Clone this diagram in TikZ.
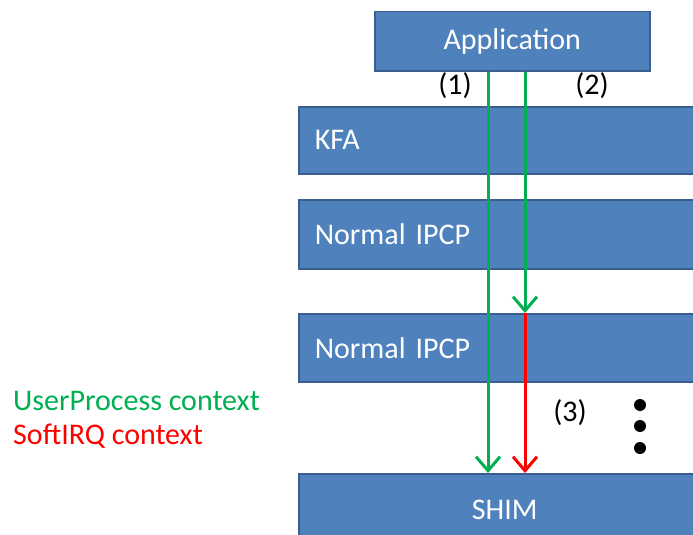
\documentclass[tikz,border=0pt]{standalone}
\usepackage{fontspec}
\setmainfont{Carlito}
\usetikzlibrary{positioning}
\usetikzlibrary {arrows.meta}
\definecolor{layerfill}{HTML}{4F81BD}
\definecolor{layerdraw}{HTML}{3A5F8E}
\definecolor{usergreen}{HTML}{00B050}
\definecolor{irqred}{HTML}{FF0000}
\tikzset{layerbox/.style={rectangle,draw=layerdraw,fill=layerfill,line width=1.5pt,
text=white,font=\fontsize{30}{35}\selectfont,anchor=north west,
minimum width=412pt,text width=380pt,inner xsep=16pt,align=left}}
\tikzset{pathlabel/.style={font=\fontsize{30}{35}\selectfont,inner sep=0pt}}
\tikzset{userflow/.style={draw=usergreen,line width=3pt,-{Straight Barb[length=14pt,width=24pt,line width=3pt]}}}
\tikzset{irqflow/.style={draw=irqred,line width=3pt,-{Straight Barb[length=14pt,width=24pt,line width=3pt]}}}

\begin{document}
\begin{tikzpicture}[x=1pt,y=-1pt]
        \useasboundingbox (0,0) rectangle (693,535);
        \clip (0,0) rectangle (693,535);

        \node[layerbox, minimum width=275pt, minimum height=59pt, text width=243pt, align=center] (app) at (374,11) {Application};
        \node[layerbox, minimum height=67pt] (kfa) at (298,106) {KFA};
        \node[layerbox, minimum height=69pt] (ipcpA) at (298,199) {Normal IPCP};
        \node[layerbox, minimum height=68pt] (ipcpB) at (298,313) {Normal IPCP};
        \node[layerbox, minimum height=72pt, align=center] (shim) at (298,473) {SHIM};

        \coordinate (flowA) at (488,0);
        \coordinate (flowB) at (525,0);

        \draw[userflow] (app.south -| flowA) -- (shim.north -| flowA);
        \draw[userflow] (app.south -| flowB) -- (ipcpB.north -| flowB);
        \draw[irqflow] (ipcpB.north -| flowB) -- (shim.north -| flowB);

        \node[pathlabel] (labA) at (455,86) {(1)};
        \node[pathlabel] (labB) at (592,86) {(2)};
        \node[pathlabel] (labC) at (570,413) {(3)};

        \foreach \y in {405,426,448}
            \fill (640,\y) circle (6pt);

        \node[pathlabel, anchor=west, text=usergreen] (ctxuser) at (13,401) {UserProcess context};
        \node[pathlabel, anchor=west, text=irqred] (ctxirq) at (13,436) {SoftIRQ context};

    \end{tikzpicture}
\end{document}
